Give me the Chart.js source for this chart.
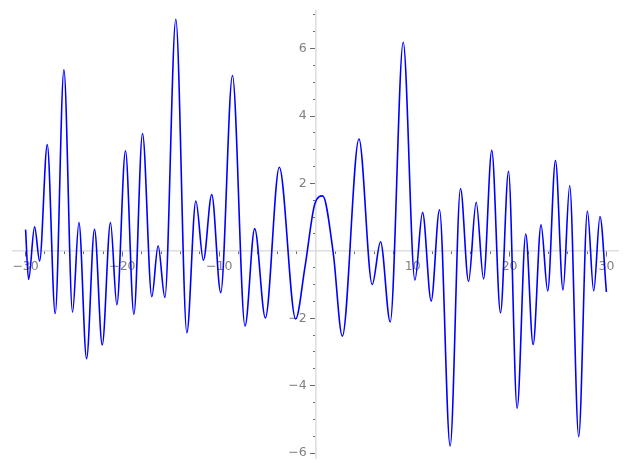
<!DOCTYPE html>
<html>
<head>
<meta charset="utf-8">
<script src="https://cdn.jsdelivr.net/npm/chart.js@4"></script>
<style>
	body { margin: 0; background: #fff; }
</style>
</head>
<body>
<canvas id="canvas" width="627" height="469"></canvas>
<script>
// turning points (x, y)
const puntosX = [-30, -29.69, -29.07, -28.55, -27.76, -26.94, -26.04, -25.15, -24.49, -23.7, -22.88, -22.08, -21.23, -20.57, -19.68, -18.81, -17.92, -16.96, -16.31, -15.61, -14.48, -13.34, -12.41, -11.63, -10.77, -9.84, -8.63, -7.33, -6.33, -5.23, -3.79, -2.1, -1.14, -0.1, 0.69, 1.79, 2.72, 4.44, 5.81, 6.67, 7.67, 9.01, 10.22, 11.01, 11.9, 12.76, 13.86, 14.93, 15.76, 16.55, 17.31, 18.16, 19.06, 19.89, 20.78, 21.67, 22.43, 23.25, 23.94, 24.74, 25.52, 26.21, 27.14, 28.04, 28.69, 29.34, 30];
const puntosY = [0.63, -0.85, 0.71, -0.3, 3.15, -1.86, 5.37, -1.82, 0.84, -3.2, 0.64, -2.79, 0.84, -1.6, 2.97, -1.88, 3.48, -1.36, 0.15, -1.38, 6.87, -2.43, 1.48, -0.28, 1.67, -1.24, 5.2, -2.23, 0.66, -1.99, 2.48, -2.02, -0.48, 1.41, 1.63, -0.08, -2.53, 3.32, -1.0, 0.27, -2.11, 6.19, -0.87, 1.14, -1.49, 1.22, -5.79, 1.85, -0.91, 1.44, -0.83, 2.98, -1.84, 2.36, -4.67, 0.5, -2.78, 0.77, -1.19, 2.68, -1.16, 1.93, -5.51, 1.18, -1.19, 1.02, -1.22];

const ticksX = [-30, -20, -10, 10, 20, 30];
const ticksY = [-6, -4, -2, 2, 4, 6];

const menores = (desde, hasta, paso) => {
	let lista = [];
	for (let v = desde; v <= hasta + 1e-9; v += paso) lista.push({ value: Math.round(v * 100) / 100 });
	return lista;
};

const etiqueta = (v) => (v < 0 ? "\u2212" + Math.abs(v) : String(v));

const fuente = { family: "DejaVu Sans", size: 12.5 };
const gris = "#808080";
const colorEje = "#dedede";
const colorTick = "#6a6a6a";

const canvas = document.getElementById("canvas");

const grafico = new Chart(canvas, {
	type: "scatter",
	data: {
		datasets: [
			{
				data: puntosX.map((x, i) => ({ x: x, y: puntosY[i] })),
				showLine: true,
				borderColor: "#0000ff",
				borderWidth: 1.6,
				pointRadius: 0,
				cubicInterpolationMode: "monotone",
			},
		],
	},
	options: {
		responsive: false,
		animation: false,
		layout: { padding: { left: 13, right: 9, top: 6, bottom: 0 } },
		plugins: { legend: { display: false }, tooltip: { enabled: false } },
		scales: {
			x: {
				type: "linear",
				min: -31.3,
				max: 31.2,
				position: { y: 0 },
				border: { color: colorEje, width: 1.6 },
				grid: { drawOnChartArea: false, tickLength: 5, tickColor: colorTick, tickWidth: 1 },
				ticks: { color: gris, font: fuente, padding: 3, maxRotation: 0, autoSkip: false, callback: (v) => etiqueta(v) },
				afterBuildTicks: (s) => { s.ticks = ticksX.map((v) => ({ value: v })); },
			},
			xMenor: {
				type: "linear",
				axis: "x",
				min: -31.3,
				max: 31.2,
				position: { y: 0 },
				border: { display: false },
				grid: { drawOnChartArea: false, tickLength: 3, tickColor: colorTick, tickWidth: 1 },
				ticks: { callback: () => "", autoSkip: false },
				afterBuildTicks: (s) => { s.ticks = menores(-30, 30, 2); },
			},
			y: {
				type: "linear",
				min: -6.16,
				max: 7.13,
				position: { x: 0 },
				border: { color: colorEje, width: 1.6 },
				grid: { drawOnChartArea: false, tickLength: 5, tickColor: colorTick, tickWidth: 1 },
				// labels sit at the axis line here, so push them left with spaces
				ticks: { color: gris, font: fuente, autoSkip: false, callback: (v) => etiqueta(v) + "\u2002\u2005" },
				afterBuildTicks: (s) => { s.ticks = ticksY.map((v) => ({ value: v })); },
			},
			yMenor: {
				type: "linear",
				axis: "y",
				min: -6.16,
				max: 7.13,
				position: { x: 0 },
				border: { display: false },
				grid: { drawOnChartArea: false, tickLength: 3, tickColor: colorTick, tickWidth: 1 },
				ticks: { callback: () => "", autoSkip: false },
				afterBuildTicks: (s) => { s.ticks = menores(-6, 7, 0.5); },
			},
		},
	},
});
</script>
</body>
</html>
